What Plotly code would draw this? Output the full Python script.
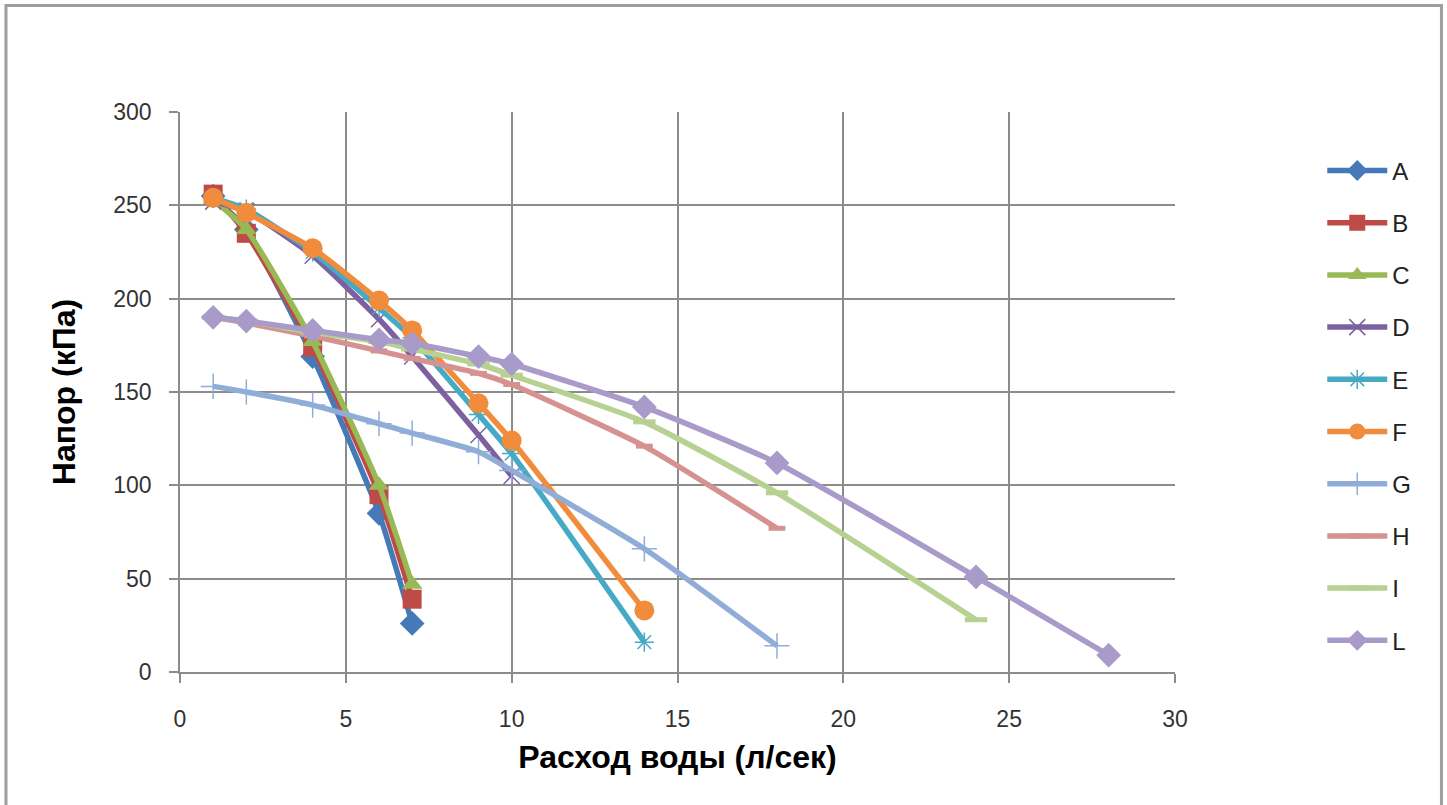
import plotly.graph_objects as go

x_short = [1, 2, 4, 6, 7]
A = [255, 237, 169, 85, 26]
B = [256, 235, 174, 95, 39]
C = [253, 237, 177, 100, 47]

x_def = [1, 2, 4, 6, 7, 9, 10]
D = [252, 247, 223, 189, 169, 127, 105]

x_ef = [1, 2, 4, 6, 7, 9, 10, 14]
E = [254, 248, 225, 195, 179, 138, 117, 16]
F = [254, 246, 227, 199, 183, 144, 124, 33]

x_gh = [1, 2, 4, 6, 7, 9, 10, 14, 18]
G = [153, 150, 143, 133, 128, 118, 108, 66, 14]
H = [190, 187, 180, 172, 168, 160, 154, 121, 77]

x_i = [1, 2, 4, 6, 7, 9, 10, 14, 18, 24]
I = [190, 188, 182, 177, 173, 165, 159, 134, 96, 28]

x_l = [1, 2, 4, 6, 7, 9, 10, 14, 18, 24, 28]
L = [190, 188, 183, 178, 176, 169, 165, 142, 112, 51, 9]

series = [
    ("A", x_short, A, "#4579B8", "diamond", 19),
    ("B", x_short, B, "#BE4B48", "square", 19),
    ("C", x_short, C, "#98B954", "triangle-up", 18),
    ("D", x_def, D, "#7D60A0", "x-thin", 16),
    ("E", x_ef, E, "#46AAC5", "asterisk", 16),
    ("F", x_ef, F, "#F08C3C", "circle", 20),
    ("G", x_gh, G, "#90ADD8", "cross-thin", 18),
    ("H", x_gh, H, "#D59290", "line-ew", 12),
    ("I", x_i, I, "#B6D192", "line-ew", 16),
    ("L", x_l, L, "#A99BC9", "diamond", 19),
]

fig = go.Figure()
for name, xs, ys, col, sym, sz in series:
    open_sym = sym in ("x-thin", "asterisk", "cross-thin", "line-ew")
    lw = 0
    if open_sym:
        lw = 5 if sym == "line-ew" else 1.5
    fig.add_trace(go.Scatter(
        x=xs, y=ys, name=name, mode="lines+markers", legendgroup=name,
        line=dict(color=col, width=5.5, shape="spline", smoothing=0.5),
        marker=dict(symbol=sym, size=sz, color=col, line=dict(color=col, width=lw)),
    ))

grid = "#8C8C8C"
fig.update_layout(
    width=1447, height=805,
    margin=dict(l=180, r=272, t=112, b=133),
    paper_bgcolor="white", plot_bgcolor="white",
    font=dict(family="Liberation Sans, Arial, sans-serif", color="#262626"),
    xaxis=dict(range=[0, 30], dtick=5, showgrid=True, gridcolor=grid, gridwidth=1.5,
               showline=True, linecolor=grid, linewidth=1.5, zeroline=False,
               ticks="outside", ticklen=9, tickcolor=grid, tickwidth=1.5,
               ticklabelstandoff=17,
               tickfont=dict(size=23, color="#333333"),
               title=dict(text="<b>Расход воды (л/сек)</b>", font=dict(size=32, color="black"), standoff=14)),
    yaxis=dict(range=[0, 300], dtick=50, showgrid=True, gridcolor=grid, gridwidth=1.5,
               showline=True, linecolor=grid, linewidth=1.5, zeroline=False,
               ticks="outside", ticklen=9, tickcolor=grid, tickwidth=1.5,
               ticklabelstandoff=13,
               tickfont=dict(size=23, color="#333333"),
               title=dict(text="<b>Напор (кПа)</b>", font=dict(size=32, color="black"), standoff=28)),
    legend=dict(x=1.148, y=0.935, xanchor="left", yanchor="top",
                font=dict(size=24, color="#222222"), tracegroupgap=18,
                itemwidth=60, bgcolor="rgba(0,0,0,0)", traceorder="grouped"),
    showlegend=True,
)
fig.add_shape(type="rect", xref="paper", yref="paper",
              x0=-0.1749, x1=1.2678, y0=-0.30, y1=1.1902,
              line=dict(color="#9E9E9E", width=3), layer="below")
fig.write_html("out.html")
